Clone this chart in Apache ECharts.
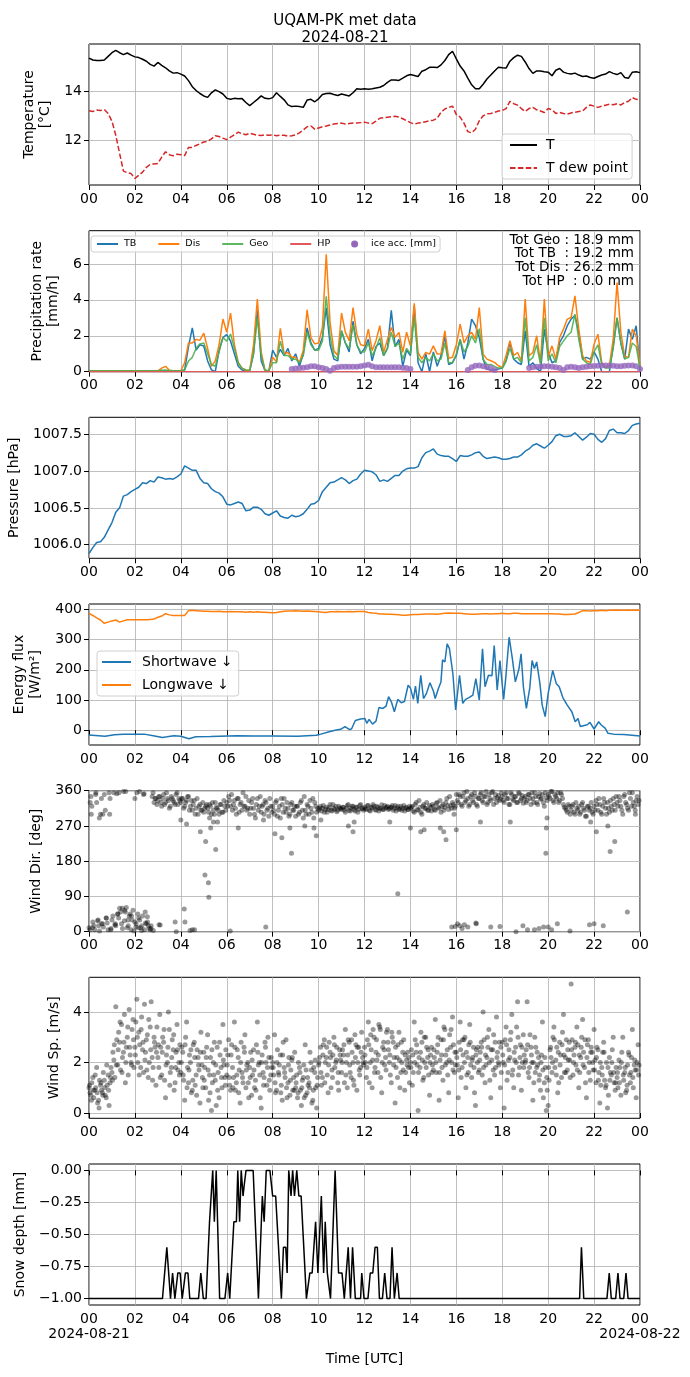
<!DOCTYPE html>
<html><head><meta charset="utf-8">
<script src="https://cdn.jsdelivr.net/npm/echarts@6/dist/echarts.min.js"></script>
<style>html,body{margin:0;padding:0;background:#fff}#c{width:690px;height:1377px}</style>
</head><body><div id="c"></div>
<script>
// ---------------- data ----------------
const X_TICK_LABELS = ['00','02','04','06','08','10','12','14','16','18','20','22','00'];
const DATE_START = '2024-08-21';
const DATE_END = '2024-08-22';
const X_TITLE = 'Time [UTC]';
const TITLE_TEXT = 'UQAM-PK met data\n2024-08-21';
const TOTALS = ['Tot Geo : 18.9 mm','Tot TB  : 19.2 mm','Tot Dis : 26.2 mm','Tot HP  : 0.0 mm'];

// 10-minute samples, 00:00 .. 24:00
const TEMP = [
15.38,15.30,15.28,15.28,15.30,15.45,
15.60,15.70,15.60,15.52,15.59,15.50,
15.43,15.40,15.33,15.25,15.12,15.05,
15.20,15.08,14.98,14.85,14.76,14.78,
14.72,14.64,14.45,14.20,14.04,13.92,
13.82,13.76,13.95,14.07,14.00,13.90,
13.72,13.68,13.72,13.70,13.71,13.55,
13.42,13.55,13.68,13.82,13.72,13.70,
13.75,13.95,13.80,13.66,13.45,13.38,
13.40,13.38,13.35,13.65,13.68,13.58,
13.70,13.88,13.92,13.93,13.88,13.84,
13.90,13.86,13.82,13.95,14.12,14.10,
14.12,14.10,14.12,14.15,14.18,14.25,
14.38,14.48,14.48,14.46,14.55,14.65,
14.70,14.66,14.62,14.84,14.90,15.00,
15.00,14.99,15.10,15.28,15.52,15.66,
15.35,15.05,14.85,14.55,14.28,14.12,
14.12,14.30,14.52,14.68,14.85,15.00,
14.98,14.97,15.25,15.40,15.50,15.45,
15.22,14.95,14.75,14.85,14.85,14.82,
14.80,14.65,14.88,14.95,14.80,14.75,
14.72,14.76,14.68,14.62,14.64,14.58,
14.55,14.62,14.68,14.72,14.82,14.75,
14.70,14.78,14.58,14.55,14.80,14.82,
14.78];
const TDEW = [
13.21,13.18,13.24,13.22,13.26,13.10,
12.78,12.20,11.45,10.72,10.66,10.62,
10.42,10.55,10.68,10.88,11.00,11.02,
11.04,11.30,11.52,11.40,11.35,11.42,
11.40,11.36,11.70,11.70,11.78,11.85,
11.92,11.95,12.05,12.18,12.15,12.08,
12.02,12.12,12.22,12.33,12.26,12.22,
12.28,12.24,12.20,12.19,12.22,12.20,
12.22,12.18,12.20,12.20,12.16,12.18,
12.22,12.30,12.42,12.55,12.58,12.45,
12.50,12.55,12.58,12.62,12.66,12.68,
12.70,12.66,12.68,12.70,12.70,12.72,
12.74,12.70,12.68,12.78,12.90,12.92,
12.94,12.96,12.98,12.95,12.88,12.80,
12.72,12.66,12.70,12.72,12.76,12.80,
12.82,12.90,13.15,13.28,13.35,13.40,
13.05,12.95,12.70,12.35,12.30,12.45,
12.80,13.00,13.08,13.10,13.14,13.20,
13.22,13.30,13.60,13.50,13.44,13.30,
13.18,13.30,13.35,13.25,13.20,13.14,
13.30,13.25,13.10,13.14,13.10,13.07,
13.12,13.15,13.18,13.20,13.35,13.45,
13.40,13.35,13.40,13.44,13.48,13.46,
13.50,13.45,13.55,13.60,13.75,13.68,
13.66];
const PRECIP_TB = [
0.05,0.05,0.05,0.05,0.05,0.05,
0.05,0.05,0.05,0.05,0.05,0.05,
0.05,0.05,0.05,0.05,0.05,0.05,
0.05,0.05,0.05,0.05,0.05,0.05,
0.05,0.1,1.4,2.44,1.2,1.5,
1.43,0.6,0.1,0.0,1.2,1.9,
2.07,1.7,1.0,0.3,0.1,0.05,
0.05,1.0,3.43,0.6,0.05,0.05,
1.2,0.8,1.24,0.9,1.3,0.6,
1.0,0.3,1.0,2.44,1.6,1.2,
1.3,1.9,3.56,1.5,0.7,0.6,
2.26,1.6,1.1,2.81,1.5,1.0,
1.3,1.8,0.6,1.4,1.6,0.9,
1.3,3.41,1.4,1.8,0.3,1.2,
0.9,3.65,0.5,0.0,1.0,0.0,
1.1,0.3,0.9,2.0,0.4,0.5,
0.9,1.8,0.7,1.6,2.93,2.56,
1.9,0.7,0.15,0.1,0.1,0.15,
0.2,0.6,1.63,0.7,0.5,0.4,
2.28,0.3,0.5,0.2,0.0,2.37,
1.1,0.5,0.6,1.63,2.0,2.56,
2.93,3.13,2.2,0.7,0.8,0.7,
1.1,0.7,0.0,0.0,0.0,1.44,
3.0,1.6,0.7,2.37,1.8,2.56,
0.1];
const PRECIP_DIS = [
0.05,0.05,0.05,0.05,0.05,0.05,
0.05,0.05,0.05,0.05,0.05,0.05,
0.05,0.05,0.05,0.05,0.05,0.05,
0.05,0.2,0.3,0.08,0.05,0.05,
0.05,0.5,1.6,1.6,1.8,1.75,
2.15,1.3,0.3,0.6,1.5,2.93,
2.2,3.26,1.5,0.5,0.2,0.08,
0.08,1.5,4.04,1.1,0.06,0.05,
0.8,0.55,2.41,1.0,1.07,0.8,
0.8,0.52,1.2,3.44,1.9,1.55,
1.6,2.46,6.54,2.74,1.17,0.9,
3.26,2.19,1.72,3.57,2.09,1.5,
1.44,2.37,1.17,1.72,2.56,1.07,
1.8,2.46,1.91,2.19,1.07,2.2,
1.44,3.81,1.07,0.7,1.07,0.98,
1.44,0.98,1.0,2.28,0.75,0.8,
1.5,2.65,1.6,2.0,2.19,1.81,
3.57,0.98,0.7,0.61,0.52,0.33,
0.24,0.9,1.72,0.9,1.07,0.61,
4.04,0.89,1.07,2.0,0.52,4.04,
0.8,1.44,0.7,1.91,2.37,2.93,
3.02,4.22,2.37,0.89,0.6,0.52,
1.54,2.09,0.52,0.24,0.33,1.81,
4.96,2.19,0.85,0.8,2.37,2.0,
0.33];
const PRECIP_GEO = [
0.05,0.05,0.05,0.05,0.05,0.05,
0.05,0.05,0.05,0.05,0.05,0.05,
0.05,0.05,0.05,0.05,0.05,0.05,
0.05,0.08,0.1,0.06,0.05,0.05,
0.05,0.1,0.6,0.8,1.3,1.55,
1.6,1.0,0.4,0.3,1.1,1.9,
1.7,2.1,1.3,0.5,0.2,0.1,
0.08,1.0,3.0,0.9,0.1,0.05,
0.5,0.5,1.7,0.9,0.9,0.7,
0.7,0.5,0.9,2.2,1.5,1.2,
1.2,1.7,4.2,2.0,0.9,0.7,
2.3,1.6,1.3,2.6,1.5,1.1,
1.1,1.6,0.9,1.3,1.9,0.9,
1.3,2.2,1.4,1.6,0.7,1.3,
1.0,3.0,0.8,0.5,0.8,0.6,
1.0,0.6,0.7,1.6,0.5,0.5,
1.0,1.8,1.1,1.4,2.0,1.6,
2.4,0.7,0.4,0.4,0.3,0.2,
0.2,0.6,1.3,0.7,0.8,0.5,
3.0,0.6,0.8,1.5,0.4,3.0,
0.6,1.0,0.5,1.4,1.7,2.0,
2.2,3.2,1.8,0.7,0.5,0.4,
1.1,1.5,0.4,0.2,0.2,1.3,
3.0,1.6,0.7,0.8,1.6,1.4,
0.2];
const PRECIP_HP_T = [0, 24];
const PRECIP_HP_V = [0, 0];
const ICE_T = [8.83,9.0,9.17,9.33,9.5,9.67,9.83,10.0,10.17,10.33,10.5,10.67,10.83,11.0,11.17,11.33,11.5,11.67,11.83,12.0,12.17,12.33,12.5,12.67,12.83,13.0,13.17,13.33,13.5,13.67,13.83,14.0,
16.5,16.67,16.83,17.0,17.17,17.33,17.5,17.67,
19.17,19.33,19.5,19.67,19.83,20.0,20.17,20.33,20.5,20.67,20.83,21.0,21.17,21.33,21.5,21.67,21.83,22.0,22.17,22.33,22.5,22.67,22.83,23.0,23.17,23.33,23.5,23.67,23.83,24.0];
const ICE_V = [0.15,0.18,0.2,0.22,0.25,0.3,0.3,0.25,0.2,0.15,0.05,0.2,0.25,0.28,0.28,0.28,0.28,0.28,0.3,0.35,0.38,0.3,0.25,0.25,0.25,0.25,0.25,0.25,0.25,0.22,0.2,0.15,
0.1,0.25,0.33,0.35,0.3,0.25,0.2,0.1,
0.2,0.25,0.28,0.28,0.3,0.3,0.28,0.25,0.2,0.1,0.25,0.28,0.25,0.2,0.25,0.28,0.3,0.32,0.33,0.35,0.35,0.35,0.33,0.3,0.3,0.33,0.35,0.35,0.3,0.15];

const PRESSURE = [
1005.88,1005.96,1006.03,1006.04,1006.10,1006.20,
1006.30,1006.44,1006.50,1006.66,1006.68,1006.72,
1006.75,1006.78,1006.84,1006.83,1006.87,1006.85,
1006.92,1006.91,1006.89,1006.90,1006.89,1006.92,
1006.96,1007.07,1007.04,1007.01,1007.01,1006.90,
1006.84,1006.83,1006.76,1006.72,1006.70,1006.65,
1006.55,1006.54,1006.56,1006.58,1006.56,1006.46,
1006.47,1006.51,1006.51,1006.48,1006.42,1006.40,
1006.43,1006.46,1006.39,1006.37,1006.36,1006.40,
1006.38,1006.39,1006.42,1006.48,1006.55,1006.56,
1006.60,1006.72,1006.78,1006.84,1006.85,1006.88,
1006.91,1006.88,1006.83,1006.87,1006.89,1006.96,
1007.01,1007.00,1006.99,1006.95,1006.86,1006.88,
1006.86,1006.90,1006.94,1006.94,1007.00,1007.03,
1007.04,1007.04,1007.06,1007.18,1007.25,1007.27,
1007.30,1007.23,1007.21,1007.20,1007.20,1007.17,
1007.13,1007.21,1007.20,1007.20,1007.22,1007.25,
1007.26,1007.20,1007.17,1007.18,1007.19,1007.18,
1007.16,1007.16,1007.17,1007.19,1007.19,1007.22,
1007.27,1007.30,1007.35,1007.37,1007.34,1007.31,
1007.35,1007.40,1007.48,1007.50,1007.47,1007.47,
1007.48,1007.52,1007.47,1007.42,1007.46,1007.51,
1007.50,1007.43,1007.39,1007.44,1007.55,1007.57,
1007.52,1007.52,1007.51,1007.55,1007.62,1007.64,
1007.65];

const LONGWAVE = [
387,380,372,365,354,358,
362,365,358,362,366,366,
366,366,366,366,367,368,
374,378,386,382,380,380,
380,380,396,397,396,395,
394,394,393,393,394,392,
392,393,392,392,392,391,
392,391,392,391,391,390,
389,390,392,394,395,395,
396,395,394,395,394,393,
392,391,390,392,392,393,
392,392,393,392,393,393,
393,390,388,387,385,385,
384,384,383,382,381,381,
382,383,383,384,385,385,
385,384,386,387,388,387,
387,387,386,385,384,384,
385,386,386,385,386,386,
387,386,386,387,387,386,
386,386,386,386,386,386,
386,386,385,385,383,383,
384,385,390,396,396,395,
396,396,397,396,397,397,
398,397,397,398,397,398,
397];
const SW_T = [0,0.7,1.1,1.5,2.4,2.8,3.2,3.4,3.7,4.0,4.35,4.65,5.3,6.45,7.2,8.0,9.1,9.9,10.1,10.5,10.77,10.96,11.15,11.35,11.44,11.6,11.83,12.02,12.1,12.2,12.35,12.5,12.63,12.8,12.94,13.05,13.17,13.3,13.45,13.6,13.74,13.9,14.0,14.13,14.22,14.32,14.45,14.57,14.7,14.85,15.0,15.08,15.22,15.33,15.4,15.5,15.6,15.7,15.85,15.97,16.14,16.28,16.4,16.55,16.72,16.85,17.0,17.14,17.25,17.4,17.55,17.65,17.78,17.9,18.06,18.15,18.3,18.44,18.57,18.73,18.82,18.92,19.05,19.2,19.3,19.4,19.5,19.64,19.74,19.87,20.0,20.2,20.35,20.48,20.64,20.83,21.03,21.18,21.3,21.4,21.7,21.82,22.0,22.2,22.3,22.48,22.6,22.85,23.3,24];
const SW_V = [-16,-20,-15,-13,-13,-18,-24,-22,-18,-20,-28,-22,-21,-18,-19,-19,-20,-17,-13,-4,1,3,12,2,5,32,37,39,23,36,20,30,75,72,80,111,94,61,102,91,95,149,140,102,146,89,182,105,122,157,130,105,138,160,233,226,286,270,187,67,182,89,102,108,116,171,100,270,144,182,180,280,133,231,102,171,308,237,160,204,253,144,72,140,231,204,226,155,83,45,122,198,155,144,108,83,61,28,39,12,18,26,4,28,18,7,-10,-13,-14,-19];

// 5-minute samples (set A at :00/:05.., set B shifted by 2.5 min, set C shifted by 1.25 min)
const WIND_DIR_A = [
10,345,25,5,330,15,300,20,350,35,5,340,
30,355,15,45,60,20,358,50,10,40,5,55,
25,355,35,10,40,5,20,15,5,345,330,340,
335,345,320,350,330,340,315,345,335,325,355,340,
330,340,320,335,345,320,310,335,315,300,325,310,
305,320,315,325,300,310,330,315,300,325,305,320,
330,345,320,310,335,300,340,325,310,320,345,315,
300,330,315,290,340,320,305,325,335,310,295,320,
320,300,335,310,290,325,340,305,315,300,330,310,
295,320,305,335,290,310,325,300,315,340,330,305,
310,320,315,305,318,312,325,308,315,320,310,316,
312,318,305,322,310,315,320,308,318,312,325,315,
318,312,322,308,316,320,310,318,314,324,312,316,
320,314,318,310,322,316,312,320,315,308,318,312,
315,320,305,330,310,318,300,325,315,310,322,308,
320,310,330,315,305,325,318,340,312,322,330,315,
350,330,345,320,355,335,340,325,350,330,345,320,
340,355,330,345,325,350,335,358,340,330,348,338,
345,330,355,340,325,350,335,345,330,352,340,328,
345,335,350,325,340,355,330,345,338,350,320,342,
350,340,358,330,345,355,335,350,325,315,305,320,
310,325,300,315,320,305,330,310,295,320,315,305,
320,335,310,325,300,340,315,330,305,320,340,310,
330,345,320,300,350,325,310,340,355,320,335,325];
const WIND_DIR_B = [
5,320,15,350,28,2,340,12,310,22,355,8,
40,18,352,35,50,8,28,62,15,45,30,2,
12,45,30,3,350,22,38,8,15,355,340,325,
345,330,340,325,355,335,320,340,330,350,325,335,
340,315,330,345,310,335,325,300,340,320,310,330,
315,325,305,320,330,300,318,310,325,305,335,310,
320,335,350,325,315,340,305,330,355,320,310,335,
315,340,300,325,310,345,320,300,330,315,340,305,
310,330,295,320,340,305,315,330,295,325,310,320,
320,300,330,310,345,300,320,335,305,290,320,315,
315,308,322,312,305,318,310,325,312,306,320,314,
318,310,316,325,308,320,312,318,305,322,314,310,
314,322,310,318,325,312,320,308,316,312,322,318,
312,318,322,315,308,320,314,310,322,316,312,320,
318,308,325,312,335,305,320,315,330,310,318,325,
312,328,318,335,320,310,330,322,345,315,325,320,
335,350,325,345,330,358,320,345,335,355,325,340,
350,335,345,358,330,340,355,325,350,342,335,355,
335,350,340,325,355,338,345,330,355,335,348,340,
330,350,340,355,330,345,325,352,340,330,355,335,
345,358,335,350,340,330,355,340,318,310,325,300,
320,305,330,310,300,325,315,295,320,310,330,300,
310,325,340,305,320,330,300,315,335,310,325,345,
320,335,310,345,330,315,355,320,330,310,345,335];
const WIND_DIR_EXTRA_T = [0.05,0.1,0.3,0.45,0.6,0.9,1.3,1.6,2.0,2.2,2.4,0.15,0.4,0.55,0.75,0.95,1.15,1.25,1.45,1.55,1.7,1.85,2.05,2.15,2.3,2.45,2.55,2.7,2.8,3.05,3.1,
3.75,3.8,4.0,4.15,4.18,4.25,4.4,4.5,4.6,4.85,5.05,5.08,5.2,5.22,5.25,5.3,5.42,5.52,5.6,6.15,6.5,7.7,7.6,8.1,8.4,8.75,8.82,9.4,9.8,9.9,10.1,11.3,11.5,11.55,13.45,13.1,14.0,14.45,14.6,15.3,15.45,15.55,15.9,16.0,
15.8,15.95,16.05,16.15,16.25,16.35,16.5,16.85,16.87,17.05,17.5,17.9,18.35,18.6,18.9,19.1,19.4,19.6,19.8,19.9,19.92,19.95,20.0,20.15,20.4,20.95,21.8,21.85,22.0,22.1,22.4,22.6,22.7,22.9,23.45,23.8];
const WIND_DIR_EXTRA_V = [330,300,355,290,300,300,355,358,340,358,352,10,30,20,35,5,20,45,60,55,30,40,20,10,15,50,25,8,3,18,17,
25,0,285,58,25,275,3,5,5,255,145,230,125,88,290,265,280,210,280,2,265,12,285,250,240,265,200,270,265,245,285,270,255,280,97,280,265,255,260,265,255,235,300,260,
12,13,20,15,8,18,12,22,20,280,12,13,280,0,15,5,5,8,12,200,265,290,12,5,20,2,18,280,20,255,15,270,205,230,50,300];
const WIND_SPEED_A = [
1.0,0.7,1.4,0.9,1.8,0.5,1.1,0.8,1.3,0.6,1.5,1.2,
1.6,2.1,4.2,1.9,2.8,3.5,2.4,1.2,3.0,4.1,2.0,3.7,
2.6,4.5,3.2,1.8,2.5,4.3,2.9,1.4,3.4,2.2,3.0,1.1,
2.2,3.9,1.5,2.8,0.6,2.0,3.3,1.8,2.5,1.2,3.5,2.0,
1.6,2.4,0.5,3.6,1.2,2.0,0.9,2.8,1.5,2.2,0.4,1.9,
2.4,1.0,3.1,1.5,0.1,2.0,1.3,2.6,0.6,1.8,3.5,1.4,
1.5,2.9,0.9,1.8,3.6,1.2,2.2,0.4,1.6,2.6,1.0,2.0,
1.8,0.7,2.5,1.3,3.6,2.0,0.2,1.6,2.8,1.1,2.2,1.5,
2.0,3.1,0.9,1.6,2.3,0.5,1.8,2.9,1.2,0.7,2.1,1.4,
1.0,0.6,1.8,0.3,1.4,2.7,0.8,1.2,2.0,0.5,1.6,0.2,
1.9,2.6,1.4,2.9,2.2,0.8,2.4,1.7,3.0,2.0,1.2,2.5,
1.6,2.3,3.3,1.0,2.8,1.4,2.0,3.1,0.9,2.6,1.8,2.2,
2.6,1.4,3.6,2.0,1.0,3.0,2.4,1.6,3.4,0.8,2.8,2.2,
3.3,2.0,1.2,2.8,0.4,2.2,3.2,1.6,2.4,0.9,2.1,1.8,
2.0,1.1,3.6,2.4,0.1,1.8,2.8,1.4,3.0,2.2,0.7,2.6,
1.7,3.7,2.4,0.5,2.9,1.3,3.3,2.0,0.8,2.6,3.8,1.6,
2.4,0.6,3.6,1.8,2.9,1.0,2.2,3.5,1.4,2.6,0.3,2.0,
1.7,2.8,4.0,1.2,2.2,3.3,0.6,2.5,1.5,3.8,2.0,1.0,
2.8,0.2,3.4,1.6,2.2,3.9,1.0,2.6,4.4,1.8,0.9,3.1,
2.0,4.4,1.4,2.6,0.5,3.0,1.8,2.2,0.9,3.6,1.2,0.1,
0.3,2.5,1.6,3.4,2.1,0.8,2.8,1.4,3.9,2.2,1.7,2.8,
5.1,1.5,2.6,3.4,1.0,2.2,3.7,1.8,0.6,2.9,1.3,2.4,
3.3,1.2,2.5,0.4,1.8,2.8,1.0,0.2,2.2,1.5,3.0,0.9,
1.4,2.1,0.7,3.0,1.6,0.9,2.4,1.2,3.3,1.9,0.6,2.7];
const WIND_SPEED_B = [
0.8,1.2,0.6,1.0,0.4,1.3,0.9,1.6,0.7,1.1,0.3,1.8,
2.4,1.4,2.9,3.2,1.7,2.2,3.9,2.6,1.5,2.3,3.3,1.8,
3.6,2.0,2.7,3.8,1.6,2.4,3.1,2.0,4.4,1.8,2.6,3.4,
1.8,2.6,3.0,1.3,2.3,4.0,1.6,2.9,0.9,2.4,1.7,2.7,
2.6,1.3,3.0,1.8,2.3,0.8,2.7,1.1,2.5,1.7,3.2,1.0,
1.8,2.6,0.5,2.2,1.2,2.8,0.3,1.6,2.3,1.0,1.9,2.5,
2.3,1.1,2.7,1.4,0.9,2.5,1.7,2.8,1.2,3.1,1.9,0.6,
2.4,1.5,1.0,2.7,1.9,0.6,2.3,1.4,2.0,3.0,0.9,1.8,
1.5,0.8,2.5,1.9,1.1,2.8,1.4,0.6,2.2,1.7,0.9,2.4,
1.5,2.0,0.9,1.3,0.6,1.7,1.1,2.4,0.4,1.8,1.0,1.4,
2.2,1.1,2.7,2.0,1.5,2.8,1.0,2.3,1.8,2.6,0.9,2.1,
2.5,1.2,2.0,2.9,1.6,2.4,1.1,2.7,2.0,1.5,3.2,1.9,
2.0,2.9,1.2,2.5,3.3,1.8,2.1,3.5,1.4,2.6,1.9,3.2,
2.5,1.5,3.0,2.2,1.8,2.7,1.0,2.0,2.9,1.6,2.4,1.2,
2.5,1.6,2.9,1.9,2.2,3.2,1.3,2.0,2.6,1.5,2.3,1.9,
2.2,1.6,3.0,2.1,1.8,3.4,2.3,1.5,3.1,2.0,2.7,1.9,
1.9,2.8,1.4,2.3,3.0,1.5,2.7,1.9,2.2,0.8,2.5,1.6,
2.4,1.5,2.9,1.9,2.6,1.3,2.1,3.1,1.8,2.4,2.8,1.6,
2.0,2.9,1.3,2.5,3.2,1.7,2.1,3.4,1.5,2.7,2.0,2.3,
2.5,1.6,3.1,2.0,1.2,2.6,1.9,1.5,2.3,0.6,1.8,0.9,
1.3,2.2,3.0,1.8,2.6,1.2,2.3,3.2,1.6,2.9,2.1,1.4,
2.9,2.3,1.9,2.7,1.6,3.0,2.4,1.2,2.7,2.0,2.6,1.7,
2.1,2.6,1.6,1.1,2.4,1.3,2.0,0.7,1.6,2.5,1.2,1.8,
1.0,1.8,2.4,1.3,0.8,1.9,1.5,2.2,1.0,1.7,2.0,1.9];
const WIND_SPEED_C = [
1.1,0.5,0.9,1.5,0.8,0.2,1.2,0.7,1.0,1.9,0.9,1.4,
1.3,2.7,1.9,2.5,3.6,1.6,2.8,2.0,3.4,2.6,1.9,2.9,
2.3,3.0,1.5,3.3,2.8,2.1,1.7,3.7,2.5,1.3,2.8,2.4,
2.7,1.4,2.4,3.3,1.9,2.6,1.1,2.2,3.1,1.8,2.5,1.5,
2.0,1.5,2.7,1.0,1.7,2.5,1.3,2.2,0.7,1.9,2.4,1.4,
1.3,2.2,1.7,0.8,2.5,1.5,1.9,0.9,2.8,1.4,2.1,1.1,
1.9,1.4,2.3,1.0,2.6,1.5,0.8,2.0,1.4,2.4,1.7,1.2,
1.4,2.1,1.7,0.9,2.4,1.5,2.0,1.1,2.6,1.8,1.3,2.2,
1.8,1.2,2.0,1.5,0.8,2.3,1.6,1.0,1.9,1.3,2.2,0.9,
1.2,0.8,1.6,1.0,1.9,0.7,1.4,1.0,1.7,0.9,2.1,1.1,
2.0,1.6,2.3,1.2,2.6,1.9,2.2,1.4,2.7,2.1,1.6,2.3,
2.0,2.7,1.5,2.3,1.9,2.9,1.3,2.2,2.6,1.7,2.4,2.0,
2.3,1.8,2.7,3.1,2.1,1.6,2.9,2.3,3.3,2.0,2.5,1.7,
2.8,2.3,3.2,1.9,2.6,1.4,2.1,2.8,1.7,2.3,1.9,2.2,
1.8,2.3,2.0,2.7,1.6,2.4,2.1,3.0,1.8,2.5,2.0,1.6,
2.5,2.0,2.7,1.6,2.3,2.9,1.9,2.5,2.1,3.3,1.7,2.4,
2.2,1.7,2.5,2.9,2.0,2.4,1.6,2.8,2.1,1.8,2.3,2.6,
2.1,2.6,1.8,2.3,3.0,2.0,2.5,1.7,2.8,2.2,1.9,2.6,
2.3,1.9,2.7,2.1,2.9,1.5,2.4,2.0,3.0,2.2,2.6,1.8,
2.1,2.7,1.8,2.3,2.0,1.6,2.4,1.3,2.0,1.7,2.2,1.4,
1.8,2.6,2.0,2.9,1.5,2.4,1.9,2.7,2.3,1.6,2.5,2.1,
2.5,2.0,2.8,1.7,2.3,2.6,1.9,2.9,2.2,1.6,2.4,2.0,
1.7,2.2,1.3,2.0,1.5,2.4,1.1,1.8,1.3,2.0,1.6,1.2,
1.6,1.2,2.0,1.5,1.8,1.1,2.3,1.6,1.4,2.1,1.7,1.5];

const SNOW_T = [0,3.2,3.39,3.55,3.64,3.74,3.87,3.97,4.06,4.2,4.31,4.39,4.77,4.87,4.98,5.1,5.25,5.32,5.39,5.46,5.54,5.69,5.92,6.04,6.13,6.21,6.31,6.42,6.48,6.56,6.63,6.71,6.77,6.84,7.15,7.38,7.55,7.63,7.72,7.88,8.0,8.13,8.38,8.47,8.57,8.63,8.7,8.8,8.87,8.95,9.05,9.14,9.24,9.47,9.62,9.72,9.87,9.97,10.12,10.22,10.29,10.38,10.52,10.72,10.87,11.02,11.12,11.29,11.39,11.48,11.6,11.83,11.88,11.98,12.15,12.25,12.36,12.46,12.56,12.65,12.78,12.88,12.98,13.11,13.2,13.3,13.42,13.51,21.37,21.45,21.55,22.56,22.66,22.75,22.94,23.04,23.13,23.29,23.39,23.48,24];
const SNOW_V = [-1,-1,-0.6,-1,-0.8,-1,-0.8,-0.8,-1,-0.8,-0.8,-1,-1,-0.8,-1,-1,-0.4,-0.4,0,-0.4,0,-1,-1,-0.8,-1,-1,-0.4,-0.4,0,-0.4,0,-0.2,-0.1,0,0,-1,-0.2,-0.4,0,0,-0.2,-0.2,-1,-0.6,-0.6,-0.8,0,-0.2,0,-0.2,0,-0.2,-0.2,-1,-0.8,-0.8,-0.4,-0.8,-0.2,-0.8,-0.4,-0.8,-1,0,-0.8,-0.8,-1,-0.6,-1,-0.6,-1,-1,-0.8,-1,-1,-0.8,-0.8,-0.6,-0.6,-1,-1,-0.8,-1,-1,-0.6,-1,-0.8,-1,-1,-0.6,-1,-1,-0.8,-1,-1,-0.8,-1,-1,-0.8,-1,-1];

// y tick values per panel
const Y_TICKS_TEMP = [12, 14];
const Y_TICKS_PRECIP = [0, 2, 4, 6];
const Y_TICKS_PRES = [1006.0, 1006.5, 1007.0, 1007.5];
const Y_TICKS_FLUX = [0, 100, 200, 300, 400];
const Y_TICKS_WDIR = [0, 90, 180, 270, 360];
const Y_TICKS_WSP = [0, 2, 4];
const Y_TICKS_SNOW = [-1.0, -0.75, -0.5, -0.25, 0.0];

// ---------------- chart ----------------
const FONT = 'DejaVu Sans';
const reg = (vals, step, off) => vals.map((v, i) => [i * step + (off || 0), v]);
const pairs = (ts, vs) => ts.map((t, i) => [t, vs[i]]);
const minus = s => String(s).replace('-', '\u2212');

const TOPS = [44, 230.7, 417.3, 604, 790.7, 977.3, 1164];
const PLOT_LEFT = 89, PLOT_W = 551, PLOT_H = 141;
const grid = TOPS.map(t => ({left: PLOT_LEFT, width: PLOT_W, top: t, height: PLOT_H, show: true,
  borderColor: '#000', borderWidth: 1, backgroundColor: 'rgba(0,0,0,0)', containLabel: false, outerBoundsMode: 'none'}));

const xAxis = TOPS.map((t, i) => ({
  type: 'value', gridIndex: i, position: 'bottom', min: 0, max: 24, interval: 2,
  axisLine: {show: false},
  axisTick: {show: true, length: 5, lineStyle: {color: '#000', width: 1}},
  axisLabel: {color: '#000', fontSize: 14, fontFamily: FONT, margin: 7, hideOverlap: false,
    showMinLabel: true, showMaxLabel: true,
    formatter: v => X_TICK_LABELS[Math.round(v / 2)]},
  splitLine: {show: true, lineStyle: {color: '#b0b0b0', width: 0.8}}
}));

function yax(i, min, max, ticks, name, gap, fmt) {
  return {
    type: 'value', gridIndex: i, min: min, max: max,
    axisLine: {show: false},
    axisTick: {show: true, length: 5, lineStyle: {color: '#000', width: 1}, customValues: ticks},
    axisLabel: {color: '#000', fontSize: 14, fontFamily: FONT, margin: 7, customValues: ticks, formatter: fmt},
    splitLine: {show: true, lineStyle: {color: '#b0b0b0', width: 0.8}},
    name: name, nameLocation: 'middle', nameRotate: 90, nameGap: gap,
    nameTextStyle: {color: '#000', fontSize: 14, fontFamily: FONT, lineHeight: 16}
  };
}
const yAxis = [
  yax(0, 10.15, 15.96, Y_TICKS_TEMP, 'Temperature\n[°C]', 34, v => minus(Math.round(v))),
  yax(1, 0, 7.85, Y_TICKS_PRECIP, 'Precipitation rate\n[mm/h]', 28, v => String(Math.round(v))),
  yax(2, 1005.815, 1007.73, Y_TICKS_PRES, 'Pressure [hPa]', 65, v => v.toFixed(1)),
  yax(3, -49, 418, Y_TICKS_FLUX, 'Energy flux\n[W/m²]', 46, v => minus(Math.round(v))),
  yax(4, 0, 360, Y_TICKS_WDIR, 'Wind Dir. [deg]', 44, v => String(Math.round(v))),
  yax(5, -0.21, 5.37, Y_TICKS_WSP, 'Wind Sp. [m/s]', 26, v => String(Math.round(v))),
  yax(6, -1.05, 0.05, Y_TICKS_SNOW, 'Snow depth [mm]', 60, v => minus(v.toFixed(2)))
];

const line = (name, idx, data, color, extra) => Object.assign({
  type: 'line', name: name, xAxisIndex: idx, yAxisIndex: idx, data: data,
  symbol: 'none', showSymbol: false, animation: false,
  lineStyle: {color: color, width: 1.5}, itemStyle: {color: color}, z: 3
}, extra || {});
const dots = (name, idx, data) => ({type: 'scatter', name: name, xAxisIndex: idx, yAxisIndex: idx, data: data,
  symbolSize: 5, itemStyle: {color: 'rgba(0,0,0,0.5)'}, animation: false, silent: true});

const series = [
  line('T', 0, reg(TEMP, 1/6), '#000000'),
  line('T dew point', 0, reg(TDEW, 1/6), '#d62728', {lineStyle: {color: '#d62728', width: 1.5, type: [5.5, 2.4]}}),
  line('TB', 1, reg(PRECIP_TB, 1/6), '#1f77b4'),
  line('Dis', 1, reg(PRECIP_DIS, 1/6), '#ff7f0e'),
  line('Geo', 1, reg(PRECIP_GEO, 1/6), '#4caf50', {lineStyle: {color: '#4caf50', width: 1.5, opacity: 0.9}}),
  line('HP', 1, pairs(PRECIP_HP_T, PRECIP_HP_V), '#e05a5b'),
  {type: 'scatter', name: 'ice acc. [mm]', xAxisIndex: 1, yAxisIndex: 1, data: pairs(ICE_T, ICE_V),
   symbol: 'circle', symbolSize: 6, itemStyle: {color: '#9467bd'}, animation: false, z: 4},
  line('Pressure', 2, reg(PRESSURE, 1/6), '#1f77b4'),
  line('Shortwave ↓', 3, pairs(SW_T, SW_V), '#1f77b4'),
  line('Longwave ↓', 3, reg(LONGWAVE, 1/6), '#ff7f0e'),
  dots('wdirA', 4, reg(WIND_DIR_A, 1/12)),
  dots('wdirB', 4, reg(WIND_DIR_B, 1/12, 1/24)),
  dots('wdirX', 4, pairs(WIND_DIR_EXTRA_T, WIND_DIR_EXTRA_V)),
  dots('wspA', 5, reg(WIND_SPEED_A, 1/12)),
  dots('wspB', 5, reg(WIND_SPEED_B, 1/12, 1/24)),
  dots('wspC', 5, reg(WIND_SPEED_C, 1/12, 1/48)),
  line('Snow', 6, pairs(SNOW_T, SNOW_V), '#000000')
];

const legBox = {backgroundColor: 'rgba(255,255,255,0.8)', borderColor: '#d0d0d0', borderWidth: 1, borderRadius: 3,
  itemStyle: {opacity: 0}};
const legend = [
  Object.assign({data: ['T', 'T dew point'], orient: 'vertical', left: 502, top: 134,
    itemWidth: 27, itemHeight: 14, itemGap: 9, padding: [4, 4, 4, 7], selectedMode: false,
    textStyle: {color: '#000', fontSize: 14, fontFamily: FONT, padding: [0, 0, 0, 4]}}, legBox),
  Object.assign({data: ['TB', 'Dis', 'Geo', 'HP', {name: 'ice acc. [mm]', icon: 'circle', itemStyle: {opacity: 1, color: '#9467bd'}}],
    orient: 'horizontal', left: 91, top: 236,
    itemWidth: 21, itemHeight: 7, itemGap: 21, padding: [3, 4, 3, 5], selectedMode: false,
    textStyle: {color: '#000', fontSize: 9.5, fontFamily: FONT, padding: [0, 0, 0, 1]}}, legBox),
  Object.assign({data: ['Shortwave ↓', 'Longwave ↓'], orient: 'vertical', left: 97, top: 651,
    itemWidth: 29, itemHeight: 14, itemGap: 9, padding: [4, 6, 4, 4], selectedMode: false,
    textStyle: {color: '#000', fontSize: 14, fontFamily: FONT, padding: [0, 0, 0, 6]}}, legBox)
];

// totals text (right aligned), date offsets and x title under the bottom axis
const graphic = TOTALS.map((s, k) => ({type: 'text', right: 56, top: 233 + k * 13.9, z: 100,
  style: {text: s, fontSize: 13.5, fontFamily: FONT, fill: '#000'}}));
const bottom = TOPS[6] + PLOT_H;
const centerText = (txt, x, y) => ({type: 'text', x: x, y: y, z: 100,
  style: {text: txt, fontSize: 14, fontFamily: FONT, fill: '#000', align: 'center', verticalAlign: 'middle'}});
graphic.push(centerText(DATE_START, PLOT_LEFT, bottom + 29));
graphic.push(centerText(DATE_END, PLOT_LEFT + PLOT_W, bottom + 29));
graphic.push(centerText(X_TITLE, PLOT_LEFT + PLOT_W / 2, bottom + 54));

const chart = echarts.init(document.getElementById('c'), null, {renderer: 'canvas'});
chart.setOption({
  animation: false,
  backgroundColor: '#ffffff',
  title: {text: TITLE_TEXT, left: 'center', top: 8,
    textStyle: {color: '#000', fontSize: 15, fontWeight: 'normal', fontFamily: FONT, lineHeight: 16.5}},
  grid: grid, xAxis: xAxis, yAxis: yAxis, series: series, legend: legend, graphic: graphic
});
</script></body></html>
